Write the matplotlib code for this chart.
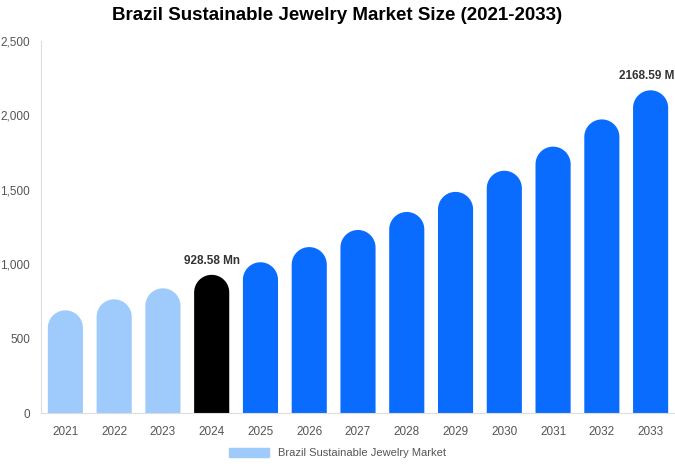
import numpy as np
import matplotlib.pyplot as plt
from matplotlib.patches import PathPatch, Rectangle
from matplotlib.path import Path

plt.rcParams['font.family'] = ['Liberation Sans', 'DejaVu Sans']

years = ['2021', '2022', '2023', '2024', '2025', '2026', '2027', '2028', '2029', '2030', '2031', '2032', '2033']
values = [690, 764, 838, 928.58, 1013, 1115, 1230, 1351, 1486, 1628, 1790, 1973, 2168.59]
labels = {3: '928.58 Mn', 12: '2168.59 Mn'}

light = '#9ecbfc'
blue = '#0a6bff'
colors = [light] * 3 + ['#000000'] + [blue] * 9

fig = plt.figure(figsize=(6.75, 4.69), dpi=100)
ax = fig.add_axes([41 / 675, 1 - 413 / 469, 634 / 675, 372 / 469])

ymax = 2500
ax.set_xlim(-0.5, len(years) - 0.5)
ax.set_ylim(0, ymax)

bw = 0.72
# rounded cap: half circle in pixels, converted to data units
px_per_x = 634 / len(years)
px_per_y = 372 / ymax
rx = bw / 2
ry = rx * px_per_x / px_per_y
theta = np.linspace(0, np.pi, 40)


def rounded_bar(x, h):
    top = h - ry
    pts = [(x - rx, 0), (x + rx, 0), (x + rx, top)]
    pts += [(x + rx * np.cos(t), top + ry * np.sin(t)) for t in theta[1:-1]]
    pts += [(x - rx, top), (x - rx, 0)]
    codes = [Path.MOVETO] + [Path.LINETO] * (len(pts) - 2) + [Path.CLOSEPOLY]
    return Path(pts, codes)


for i, (v, c) in enumerate(zip(values, colors)):
    ax.add_patch(PathPatch(rounded_bar(i, v), facecolor=c, edgecolor='none'))
    if i in labels:
        ax.text(i, v + 55, labels[i], ha='center', va='bottom', fontsize=8.5,
                fontweight='bold', color='#333333', clip_on=False)

ax.set_xticks(range(len(years)))
ax.set_xticklabels(years)
ax.set_yticks([0, 500, 1000, 1500, 2000, 2500])
ax.set_yticklabels(['0', '500', '1,000', '1,500', '2,000', '2,500'])
ax.tick_params(colors='#555555', labelsize=8.5, length=0)
ax.tick_params(axis='x', pad=9)
ax.tick_params(axis='y', pad=8)
for s in ['top', 'right']:
    ax.spines[s].set_visible(False)
for s in ['left', 'bottom']:
    ax.spines[s].set_color('#dddddd')

fig.suptitle('Brazil Sustainable Jewelry Market Size (2021-2033)', x=0.5, y=0.985,
             fontsize=13.5, fontweight='bold', color='#000000')

handle = Rectangle((0, 0), 1, 1, color=light)
fig.legend([handle], ['Brazil Sustainable Jewelry Market'], loc='center',
           bbox_to_anchor=(0.5, 1 - 453 / 469), frameon=False, fontsize=8,
           labelcolor='#555555', handlelength=3.6, handleheight=0.9)

fig.savefig('out.png', dpi=100)
